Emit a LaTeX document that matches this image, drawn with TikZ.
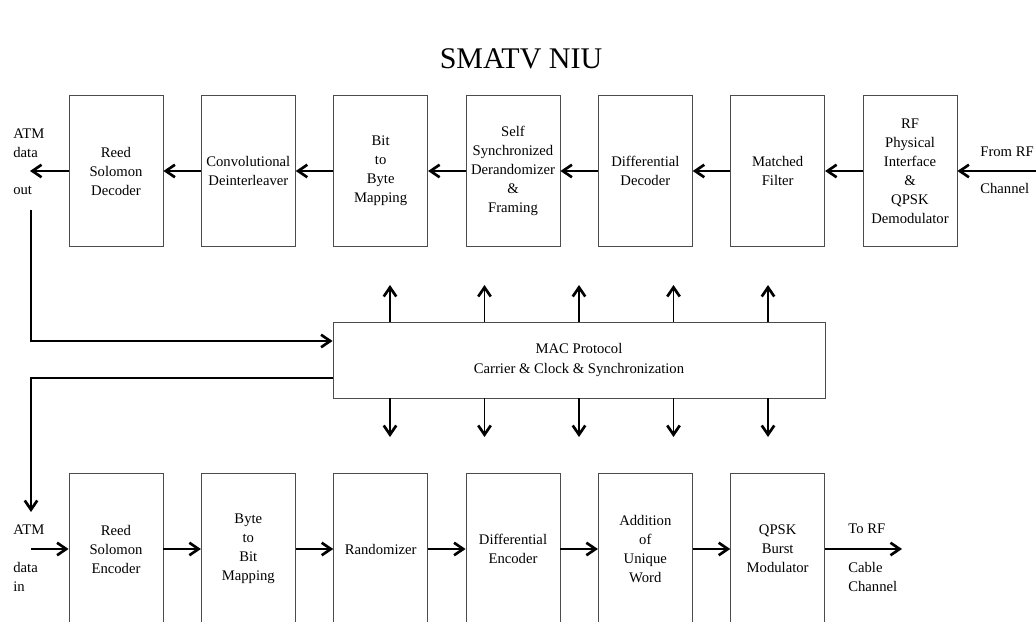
\documentclass[tikz,border=0pt]{standalone}
\usepackage{fontspec}
\setmainfont{Liberation Serif}
\usetikzlibrary{arrows.meta,positioning}
\tikzset{>={Straight Barb[length=5.5pt,width=7.5pt,line width=1.6pt]}}

\begin{document}
\begin{tikzpicture}[x=0.6pt,y=-0.6pt,
  blk/.style={draw=black!70,line width=0.5pt,minimum width=56.4pt,minimum height=91pt,
    align=center,inner sep=1pt,font=\fontsize{8.8}{11.4}\selectfont},
  lbl/.style={align=left,inner sep=0pt,anchor=west,font=\fontsize{8.8}{11.4}\selectfont},
  flow/.style={->,line width=0.65pt}]
\def\xa{116}    % x-position of first column
\def\dx{132.33} % distance between columns
\def\ytop{171}  % y-position of receive chain
\def\ybot{549}  % y-position of transmit chain
\useasboundingbox (0,0) rectangle (1036,621);
% title:
\node[font=\fontsize{18}{22}\selectfont] (title) at (521,59) {SMATV NIU};
% receive chain:
\node[blk] (rsdec)  at (\xa,\ytop)        {Reed\\Solomon\\Decoder};
\node[blk] (deint)  at (\xa+\dx,\ytop)    {Convolutional\\Deinterleaver};
\node[blk] (bitbyte) at (\xa+2*\dx,\ytop) {Bit\\to\\Byte\\Mapping};
\node[blk] (derand) at (\xa+3*\dx,\ytop)  {Self\\Synchronized\\Derandomizer\\\&\\Framing};
\node[blk] (diffdec) at (\xa+4*\dx,\ytop) {Differential\\Decoder};
\node[blk] (match)  at (\xa+5*\dx,\ytop)  {Matched\\Filter};
\node[blk] (rfdemod) at (\xa+6*\dx,\ytop) {RF\\Physical\\Interface\\\&\\QPSK\\Demodulator};
\coordinate (rfin)   at (1036,\ytop);
\coordinate (atmout) at (30,\ytop);
\node[lbl] (outtop)  at (13,143) {ATM\\data};
\node[lbl] (outbot)  at (13,190) {out};
\node[lbl] (fromrf)  at (980,152) {From RF};
\node[lbl] (chanin)  at (980,188) {Channel};
\draw[flow] (rfin) -- (rfdemod.east);
\draw[flow] (rfdemod) -- (match);
\draw[flow] (match) -- (diffdec);
\draw[flow] (diffdec) -- (derand);
\draw[flow] (derand) -- (bitbyte);
\draw[flow] (bitbyte) -- (deint);
\draw[flow] (deint) -- (rsdec);
\draw[flow] (rsdec.west) -- (atmout);
% MAC:
\node[draw=black!70,line width=0.5pt,minimum width=295.2pt,minimum height=45.6pt,
  align=center,font=\fontsize{8.8}{12}\selectfont] (mac) at (579,360)
  {MAC Protocol\\Carrier \& Clock \& Synchronization};
\foreach \i in {0,...,4}{
  \coordinate (up\i) at (390+94.5*\i,285);
  \coordinate (dn\i) at (390+94.5*\i,437);
  \draw[flow] (mac.north -| up\i) -- (up\i);
  \draw[flow] (mac.south -| dn\i) -- (dn\i);
}
\coordinate (tap)   at (31,210);
\coordinate (atmin) at (31,512);
\draw[flow] (tap) |- ([yshift=11.4pt]mac.west);
\draw[flow] ([yshift=-10.8pt]mac.west) -| (atmin);
% transmit chain:
\node[blk] (rsenc)  at (\xa,\ybot)        {Reed\\Solomon\\Encoder};
\node[blk] (bytebit) at (\xa+\dx,\ybot)   {Byte\\to\\Bit\\Mapping};
\node[blk] (rand)   at (\xa+2*\dx,\ybot)  {Randomizer};
\node[blk] (diffenc) at (\xa+3*\dx,\ybot) {Differential\\Encoder};
\node[blk] (uword)  at (\xa+4*\dx,\ybot)  {Addition\\of\\Unique\\Word};
\node[blk] (qpskmod) at (\xa+5*\dx,\ybot) {QPSK\\Burst\\Modulator};
\coordinate (atmsrc) at (31,\ybot);
\coordinate (rfout)  at (902,\ybot);
\node[lbl] (inA)    at (13,530) {ATM};
\node[lbl] (inB)    at (13,577) {data\\in};
\node[lbl] (torf)   at (848,529) {To RF};
\node[lbl] (cable)  at (848,577) {Cable\\Channel};
\draw[flow] (atmsrc) -- (rsenc.west);
\draw[flow] (rsenc) -- (bytebit);
\draw[flow] (bytebit) -- (rand);
\draw[flow] (rand) -- (diffenc);
\draw[flow] (diffenc) -- (uword);
\draw[flow] (uword) -- (qpskmod);
\draw[flow] (qpskmod.east) -- (rfout);
\end{tikzpicture}
\end{document}
